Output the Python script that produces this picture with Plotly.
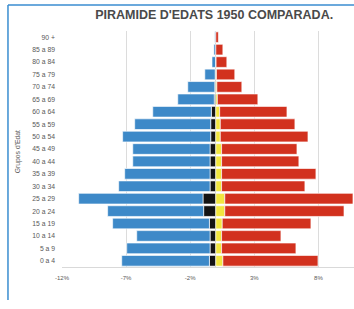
import plotly.graph_objects as go

# Age groups, bottom (0 a 4) to top (90 +)
edats = ["0 a 4", "5 a 9", "10 a 14", "15 a 19", "20 a 24", "25 a 29", "30 a 34",
         "35 a 39", "40 a 44", "45 a 49", "50 a 54", "55 a 59", "60 a 64",
         "65 a 69", "70 a 74", "75 a 79", "80 a 84", "85 a 89", "90 +"]

# Left side totals (%), split into blue part and black part (next to centre)
homes_total = [7.34, 6.95, 6.17, 8.05, 8.44, 10.7, 7.58, 7.11, 6.48, 6.48, 7.27,
               6.33, 4.92, 2.97, 2.19, 0.86, 0.30, 0.15, 0.08]
homes_negre = [0.50, 0.45, 0.45, 0.50, 0.95, 1.00, 0.45, 0.45, 0.45, 0.45, 0.40,
               0.40, 0.35, 0.12, 0.08, 0.05, 0.02, 0.0, 0.0]
# Right side totals (%), split into red part and yellow part (next to centre)
dones_total = [7.97, 6.25, 5.08, 7.42, 10.0, 10.7, 6.95, 7.81, 6.48, 6.33, 7.19,
               6.17, 5.55, 3.28, 2.03, 1.48, 0.86, 0.55, 0.20]
dones_groc = [0.55, 0.45, 0.45, 0.50, 0.70, 0.70, 0.45, 0.45, 0.45, 0.45, 0.35,
              0.35, 0.30, 0.12, 0.08, 0.05, 0.02, 0.0, 0.0]

tick_vals = [-12, -7, -2, 3, 8]
tick_text = ["-12%", "-7%", "-2%", "3%", "8%"]

homes_blau = [t - n for t, n in zip(homes_total, homes_negre)]
dones_vermell = [t - g for t, g in zip(dones_total, dones_groc)]

line = dict(color="rgba(255,255,255,0.8)", width=0.8)
fig = go.Figure()
fig.add_trace(go.Bar(y=edats, x=[-v for v in homes_negre], orientation="h",
                     marker=dict(color="#141414", line=line), name="Homes comp."))
fig.add_trace(go.Bar(y=edats, x=dones_groc, orientation="h",
                     marker=dict(color="#F2E640", line=line), name="Dones comp."))
fig.add_trace(go.Bar(y=edats, x=[-v for v in homes_blau], orientation="h",
                     marker=dict(color="#3D89C8", line=line), name="Homes"))
fig.add_trace(go.Bar(y=edats, x=dones_vermell, orientation="h",
                     marker=dict(color="#D2311E", line=line), name="Dones"))

fig.update_layout(
    width=354, height=309,
    margin=dict(l=62, r=0, t=31, b=42),
    barmode="relative", bargap=0.14,
    showlegend=False,
    paper_bgcolor="white", plot_bgcolor="white",
    font=dict(family="Liberation Sans, Arial, sans-serif", color="#595959"),
    title=dict(text="<b>PIRAMIDE D'EDATS 1950 COMPARADA.</b>",
               x=0.605, xanchor="center", y=0.952, yanchor="middle",
               font=dict(size=12.5, color="#4a4a4a")),
    xaxis=dict(range=[-12, 10.78], tickvals=tick_vals, ticktext=tick_text,
               tickfont=dict(size=6), showgrid=True, gridcolor="#dcdcdc",
               gridwidth=1, zeroline=True, zerolinecolor="#d0d0d0",
               zerolinewidth=1, showline=True, linecolor="#d9d9d9",
               ticks="", ticklabelstandoff=5, fixedrange=True),
    yaxis=dict(categoryorder="array", categoryarray=edats,
               tickfont=dict(size=6.8), ticks="", showgrid=False,
               ticklabelstandoff=6, automargin=False),
    annotations=[dict(text="Grupos d'Edat", textangle=-90, xref="paper",
                      yref="paper", x=-0.151, y=0.49, showarrow=False,
                      xanchor="center", yanchor="middle",
                      font=dict(size=6.8, color="#595959"))],
    shapes=[
        dict(type="line", xref="paper", yref="paper",
             x0=-0.185, x1=-0.185, y0=-0.14, y1=1.11,
             line=dict(color="#3A8DD0", width=1.5)),
        dict(type="line", xref="paper", yref="paper",
             x0=-0.185, x1=1.0, y0=1.11, y1=1.11,
             line=dict(color="#3A8DD0", width=1.5)),
    ],
)

fig.write_html("out.html", config={"displayModeBar": False},
               post_script="document.body.style.margin='0';")
